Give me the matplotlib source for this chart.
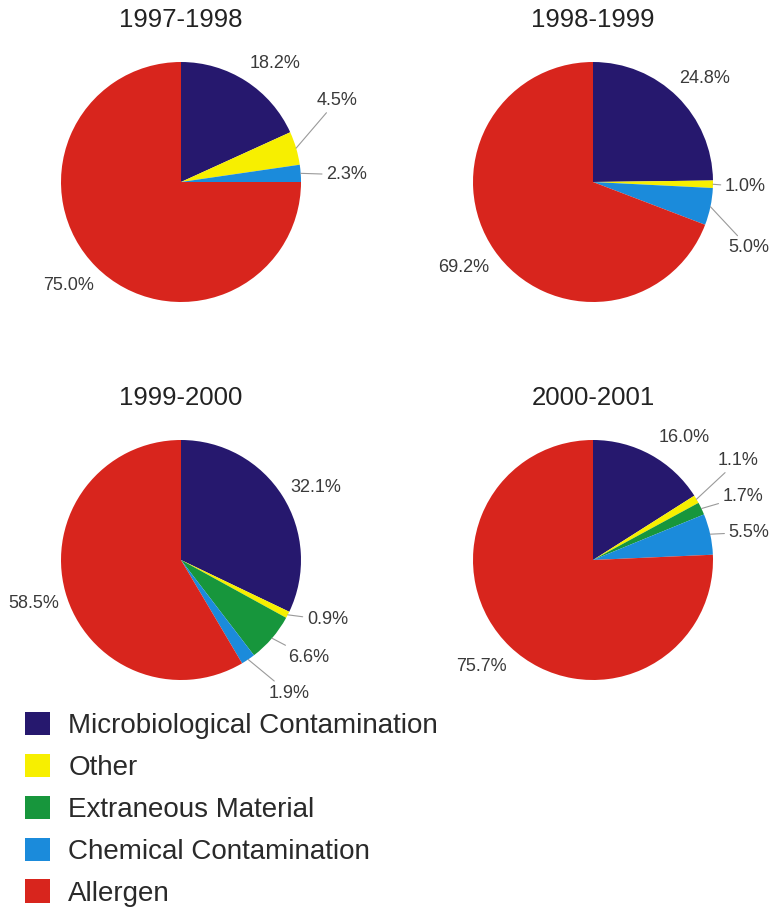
import matplotlib
matplotlib.use("Agg")
import matplotlib.pyplot as plt
import numpy as np

plt.rcParams['font.family'] = ['Liberation Sans', 'DejaVu Sans']

categories = ["Microbiological Contamination", "Other", "Extraneous Material",
              "Chemical Contamination", "Allergen"]
colors = ["#26186e", "#f7ef00", "#17963c", "#1b8bdb", "#d8251d"]

periods = ["1997-1998", "1998-1999", "1999-2000", "2000-2001"]
v_9798 = [18.2, 4.5, 0.0, 2.3, 75.0]
v_9899 = [24.8, 1.0, 0.0, 5.0, 69.2]
v_9900 = [32.1, 0.9, 6.6, 1.9, 58.5]
v_0001 = [16.0, 1.1, 1.7, 5.5, 75.7]
values = [v_9798, v_9899, v_9900, v_0001]

# layout: pie centres (px) and label offsets in radius units
W, H = 771, 907
R = 120
centers = [(181, 182), (593, 182), (181, 560), (593, 560)]
label_pos = [
    [(0.78, 0.99), (1.30, 0.68), None, (1.38, 0.06), (-0.94, -0.86)],
    [(0.93, 0.86), (1.27, -0.04), None, (1.30, -0.55), (-1.08, -0.71)],
    [(1.12, 0.60), (1.22, -0.50), (1.06, -0.81), (0.90, -1.11), (-1.23, -0.36)],
    [(0.76, 1.02), (1.21, 0.83), (1.25, 0.53), (1.30, 0.23), (-0.93, -0.89)],
]
leader = [
    [False, True, False, True, False],
    [False, True, False, True, False],
    [False, True, True, True, False],
    [False, True, True, True, False],
]

fig = plt.figure(figsize=(W / 100, H / 100), dpi=100)
fig.patch.set_facecolor("white")

legend_wedges = None
for i, (period, vals) in enumerate(zip(periods, values)):
    cx, cy = centers[i]
    ax = fig.add_axes([(cx - R) / W, (H - cy - R) / H, 2 * R / W, 2 * R / H])
    wedges, _ = ax.pie(vals, colors=colors, startangle=90, counterclock=False,
                       radius=1.0, wedgeprops=dict(linewidth=0))
    if i == 2:
        legend_wedges = wedges
    ax.set_xlim(-1, 1)
    ax.set_ylim(-1, 1)
    ax.set_aspect('equal')
    ax.axis('off')
    ax.text(0, 1.35, period, ha='center', va='center', fontsize=18.5, color='#222222')
    cum = 0.0
    for j, v in enumerate(vals):
        if v > 0 and label_pos[i][j] is not None:
            mid = np.deg2rad(90 - 360 * (cum + v / 2) / 100.0)
            lx, ly = label_pos[i][j]
            txt = f"{v:.1f}%"
            if leader[i][j]:
                ax.annotate(txt, xy=(np.cos(mid), np.sin(mid)), xytext=(lx, ly),
                            ha='center', va='center', fontsize=13, color='#3a3a3a',
                            arrowprops=dict(arrowstyle='-', color='#9a9a9a', lw=0.8,
                                            shrinkA=1, shrinkB=0))
            else:
                ax.text(lx, ly, txt, ha='center', va='center', fontsize=13,
                        color='#3a3a3a')
        cum += v

leg = fig.legend(legend_wedges, categories, loc='upper left',
                 bbox_to_anchor=(14 / W, 1 - 701 / H), frameon=False,
                 fontsize=20, handlelength=0.9, handleheight=0.9,
                 labelspacing=0.53, handletextpad=0.65, borderaxespad=0,
                 labelcolor='#2a2a2a')

fig.savefig("out.png", dpi=100, facecolor="white")
